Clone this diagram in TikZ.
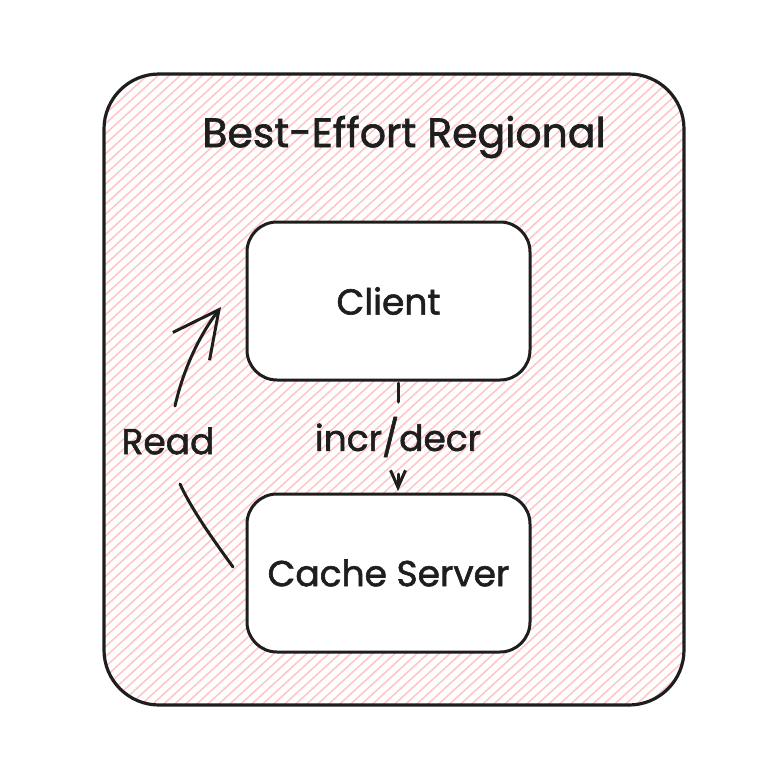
\documentclass[tikz,border=0pt]{standalone}
\usepackage{fontspec}
\setmainfont{Poppins}[FakeBold=1.6]
\usetikzlibrary{arrows.meta}
\definecolor{ink}{HTML}{1E1E1E}
\definecolor{hatch}{RGB}{255,196,196}
\tikzset{
  txt/.style={font=\fontsize{36}{42}\selectfont, text=ink, inner sep=0pt},
  titletxt/.style={font=\fontsize{41}{48}\selectfont, text=ink, inner sep=0pt},
  boxnode/.style={draw=ink, line width=3pt, fill=white, rounded corners=30pt,
     minimum width=283pt, minimum height=158pt, txt},
  conn/.style={draw=ink, line width=3pt, line cap=round},
}
\begin{document}
\begin{tikzpicture}[x=1pt,y=-1pt]
\useasboundingbox (0,0) rectangle (766,774);
% outer group with hachure
\begin{scope}
  \clip[rounded corners=55pt] (104,74) rectangle (684,705);
  \foreach \i in {-560,-549,...,700}
    \draw[hatch, line width=1.5pt] (\i,712) -- ++(700,-640);
\end{scope}
\draw[ink, line width=3.2pt, rounded corners=55pt] (104,74) rectangle (684,705);
\node[titletxt] (title) at (404,137) {Best-Effort Regional};
% boxes
\node[boxnode] (client) at (388.5,301) {Client};
\node[boxnode] (cache) at (388.5,573) {Cache Server};
% incr/decr
\node[txt] (incr) at (398,437) {incr/decr};
\coordinate (a1) at (398,383);
\coordinate (a2) at (398,402);
\coordinate (a3) at (398,474);
\coordinate (a4) at (398,491);
\draw[conn] (a1) -- (a2);
\draw[conn, -{Straight Barb[length=17pt,width=15pt,line width=3pt]}] (a3) -- (a4);
% Read
\node[txt] (read) at (168,441) {Read};
\coordinate (r1) at (233,567);
\coordinate (r2) at (180,484);
\coordinate (r3) at (175,406);
\coordinate (r4) at (221,307);
\draw[conn] (r1) .. controls (212,538) and (192,510) .. (r2);
\draw[conn, -{Straight Barb[length=46pt,width=46pt,line width=3pt]}] (r3) .. controls (182,375) and (196,340) .. (r4);
\end{tikzpicture}
\end{document}
